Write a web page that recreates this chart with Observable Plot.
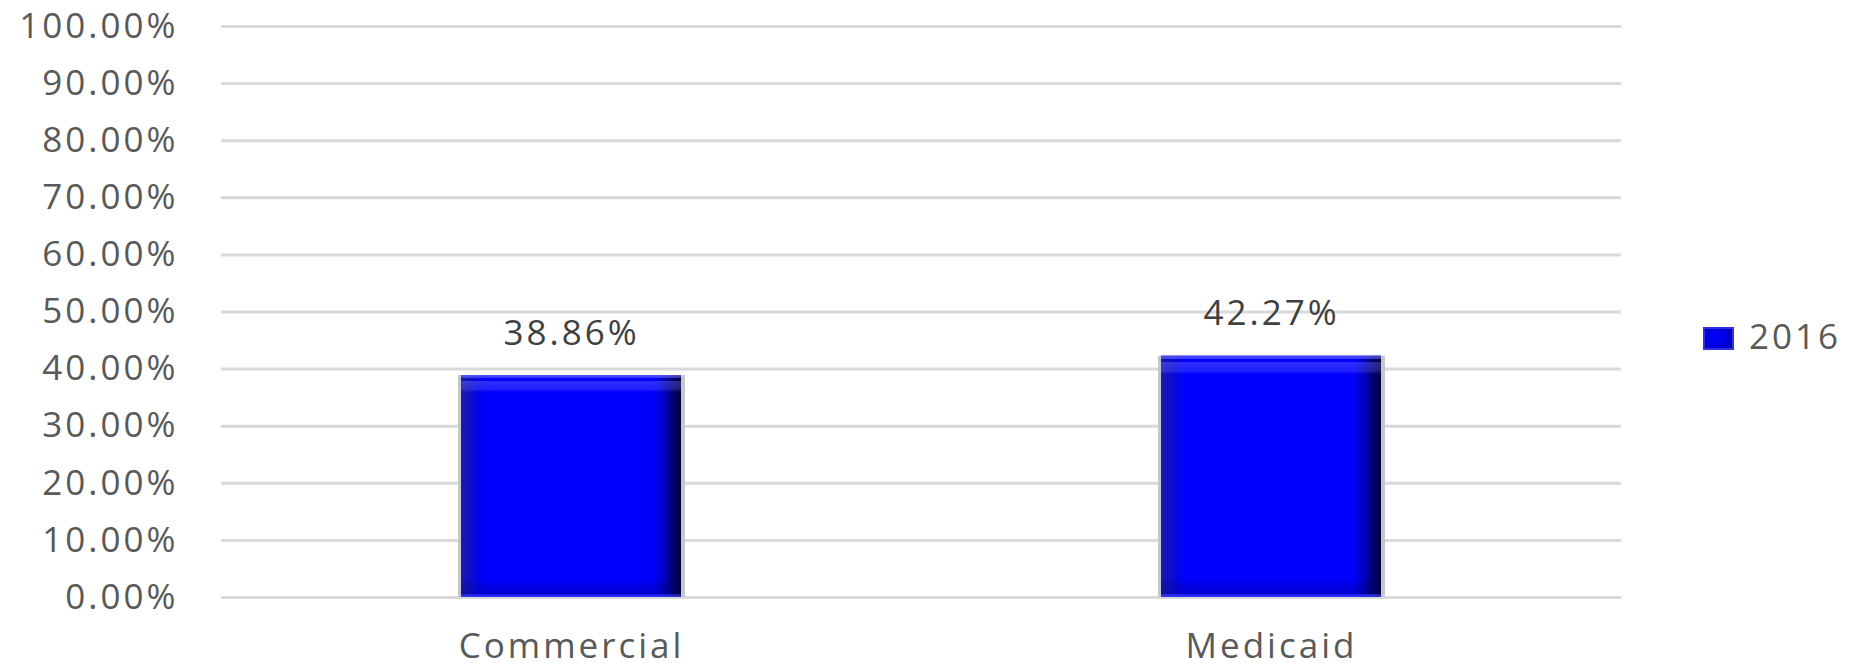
<!DOCTYPE html>
<html>
<head>
<meta charset="utf-8">
<script src="https://cdn.jsdelivr.net/npm/d3@7"></script>
<script src="https://cdn.jsdelivr.net/npm/@observablehq/plot@0.6"></script>
<style>
  html, body { margin: 0; padding: 0; background: #fff; }
  #wrap { position: relative; width: 1867px; height: 669px; }
  #wrap svg { display: block; }
  #legend { position: absolute; left: 1703px; top: 318px; display: flex; align-items: center;
            font-family: "Open Sans", sans-serif; font-size: 35px; font-weight: 500; line-height: 35px; letter-spacing: 3px; color: #595959; }
  #legend .sw { width: 31px; height: 23px; margin-right: 15px; margin-top: 6px;
                background: radial-gradient(circle at 40% 40%, #0000ff 0%, #0000e0 45%, #000090 100%);
                box-shadow: inset 0 0 0 2px #3030e0; }
</style>
</head>
<body>
<div id="wrap"></div>
<script>
const categories = ["Commercial", "Medicaid"];
const values2016 = [0.3886, 0.4227];
const seriesName = "2016";
const yTicks = [0, 0.1, 0.2, 0.3, 0.4, 0.5, 0.6, 0.7, 0.8, 0.9, 1.0];

const data = categories.map((c, i) => ({category: c, value: values2016[i]}));
const fmt = d3.format(".2%");

const chart = Plot.plot({
  width: 1867,
  height: 669,
  marginLeft: 221,
  marginRight: 246,
  marginTop: 26,
  marginBottom: 72,
  style: {fontFamily: "Open Sans, sans-serif", fontSize: "35px", fontWeight: 500, letterSpacing: "3px", background: "white", color: "#595959"},
  x: {domain: categories, paddingInner: 0.686, paddingOuter: 0.343, label: null},
  y: {domain: [0, 1], label: null},
  marks: [
    Plot.ruleY(yTicks, {stroke: "#d9d9d9", strokeWidth: 3}),
    Plot.axisY({ticks: yTicks, tickFormat: fmt, tickSize: 0, tickPadding: 43, label: null, fill: "#595959"}),
    Plot.axisX({tickSize: 0, tickPadding: 36, label: null, fill: "#595959"}),
    Plot.barY(data, {x: "category", y: "value", fill: "#c6c6ce", insetLeft: -3, insetRight: -4}),
    Plot.barY(data, {x: "category", y: "value", fill: "url(#barH)"}),
    Plot.barY(data, {x: "category", y: "value", fill: "url(#barV)"}),
    Plot.text(data, {x: "category", y: "value", text: d => fmt(d.value), lineAnchor: "bottom", dy: -31, fill: "#404040"})
  ]
});

const svg = d3.select(chart);
const defs = svg.insert("defs", ":first-child");
const h = defs.append("linearGradient").attr("id", "barH").attr("x1", 0).attr("x2", 1).attr("y1", 0).attr("y2", 0);
[[0, "#1a1aa8"], [0.03, "#1212c0"], [0.07, "#0606e4"], [0.11, "#0000ff"], [0.87, "#0000ff"], [0.92, "#0000c8"], [0.96, "#000078"], [1, "#000038"]]
  .forEach(([o, c]) => h.append("stop").attr("offset", o).attr("stop-color", c));
const v = defs.append("linearGradient").attr("id", "barV").attr("x1", 0).attr("x2", 0).attr("y1", 0).attr("y2", 1);
[[0, "#7070ff", 0.7], [0.012, "#7070ff", 0.5], [0.015, "#ffffff", 0], [0.025, "#ffffff", 0], [0.03, "#8080ff", 0.35], [0.06, "#8080ff", 0.25], [0.075, "#ffffff", 0],
 [0.92, "#000060", 0], [0.95, "#000060", 0.18], [0.985, "#000060", 0.25], [0.99, "#4040ff", 0.6], [1, "#4040ff", 0.7]]
  .forEach(([o, c, a]) => v.append("stop").attr("offset", o).attr("stop-color", c).attr("stop-opacity", a));

const wrap = document.getElementById("wrap");
wrap.appendChild(chart);
const legend = document.createElement("div");
legend.id = "legend";
legend.innerHTML = `<div class="sw"></div><span>${seriesName}</span>`;
wrap.appendChild(legend);
</script>
</body>
</html>
